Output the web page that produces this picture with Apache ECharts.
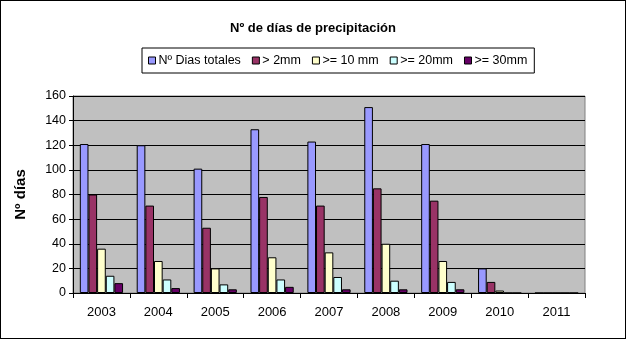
<!DOCTYPE html>
<html><head><meta charset="utf-8">
<script src="https://cdn.jsdelivr.net/npm/echarts@6/dist/echarts.min.js"></script>
<style>html,body{margin:0;padding:0;background:#fff}#c{width:626px;height:339px;box-sizing:border-box;border:1px solid #000}</style>
</head><body><div id="c"></div>
<script>
const categories = ['2003','2004','2005','2006','2007','2008','2009','2010','2011'];
const seriesNames = ['Nº Dias totales','> 2mm','>= 10 mm','>= 20mm','>= 30mm'];
const totales = [121,120,101,133,123,151,121,20,0];
const mm2 = [80,71,53,78,71,85,75,9,0];
const mm10 = [36,26,20,29,33,40,26,2,0];
const mm20 = [14,11,7,11,13,10,9,0,0];
const mm30 = [8,4,3,5,3,3,3,0,0];
const yTicks = [0,20,40,60,80,100,120,140,160];
const colors = ['#9999FF','#993366','#FFFFCC','#CCFFFF','#660066'];
const values = [totales,mm2,mm10,mm20,mm30];
const font = 'Arial, "Liberation Sans", sans-serif';
const chart = echarts.init(document.getElementById('c'));
chart.setOption({
  animation:false,
  title:{text:'Nº de días de precipitación',left:'center',top:16,textStyle:{fontFamily:font,fontSize:13,fontWeight:'bold',color:'#000'}},
  legend:{top:47,left:141,itemWidth:7,itemHeight:7,itemGap:11,icon:'rect',
    backgroundColor:'#fff',borderColor:'#000',borderWidth:1,padding:[6,7,6,6],
    itemStyle:{borderColor:'#000',borderWidth:1},
    textStyle:{fontFamily:font,fontSize:12.5,color:'#000',padding:[0,0,0,-2]},
    data:seriesNames},
  grid:{left:72,right:40,top:95,bottom:45,show:true,backgroundColor:'#C0C0C0',borderColor:'#808080',borderWidth:1},
  xAxis:{type:'category',data:categories,
    axisLine:{lineStyle:{color:'#000'}},
    axisTick:{show:true,length:5,lineStyle:{color:'#000'}},
    axisLabel:{fontFamily:font,fontSize:13,color:'#000',margin:13}},
  yAxis:{type:'value',min:yTicks[0],max:yTicks[yTicks.length-1],interval:20,
    name:'Nº días',nameLocation:'middle',nameGap:45,nameRotate:90,
    nameTextStyle:{fontFamily:font,fontSize:15,fontWeight:'bold',color:'#000'},
    axisLine:{show:true,lineStyle:{color:'#000'}},
    axisTick:{show:true,length:4,lineStyle:{color:'#000'}},
    axisLabel:{fontFamily:font,fontSize:12.5,color:'#000',margin:7},
    splitLine:{lineStyle:{color:'#000',width:1}}},
  series:values.map((v,i)=>({name:seriesNames[i],type:'bar',data:v,barGap:'0%',barCategoryGap:'24%',
    itemStyle:{color:colors[i],borderColor:'#000',borderWidth:1}}))
});
</script></body></html>
